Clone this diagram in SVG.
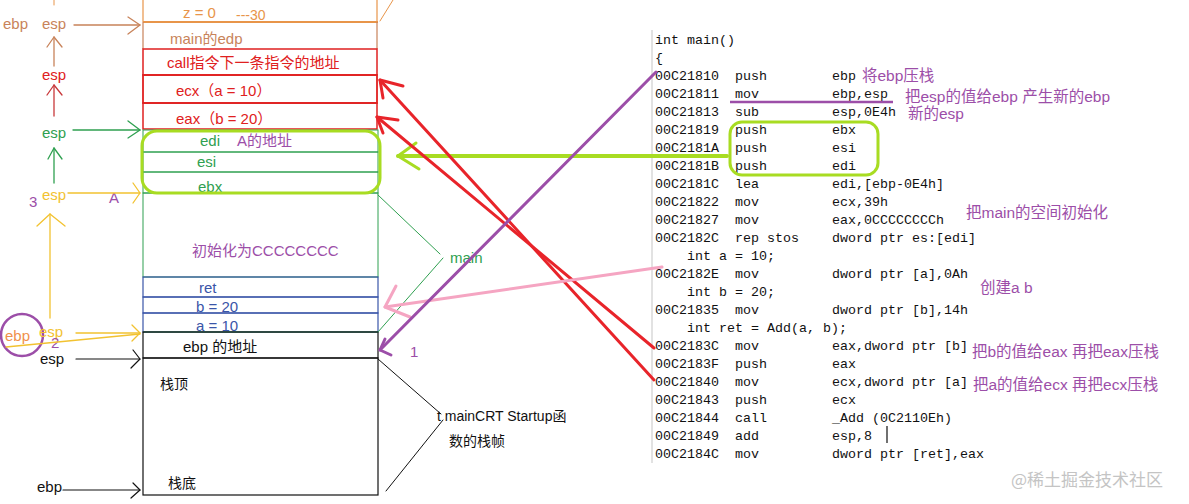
<svg xmlns="http://www.w3.org/2000/svg" width="1189" height="504" viewBox="0 0 1189 504">
<style>
  .t{font-family:"Liberation Sans","Noto Sans CJK SC",sans-serif;font-size:15px}
  .code{font-family:"Liberation Mono","DejaVu Sans Mono",monospace;font-size:13.33px;fill:#111}
  .note{font-family:"Liberation Sans","Noto Sans CJK SC",sans-serif;font-size:15.5px;fill:#9c4ea8}
  .ar{fill:none;stroke-linecap:round;stroke-linejoin:round}
</style>
<rect width="1189" height="504" fill="#fff"/>

<!-- stack cells -->
<g id="cell-z">
  <path d="M143 0V22M377 0V22" stroke="#e8954a" stroke-width="1.2" fill="none"/>
  <line x1="143" y1="22" x2="378" y2="22" stroke="#e8954a" stroke-width="2"/>
  <text class="t" x="183" y="18" fill="#e8954a">z = 0</text>
  <text class="t" x="236" y="20" fill="#e8954a" style="font-size:14px">---30</text>
</g>
<g id="cell-main-edp">
  <path d="M143 22V49M377 22V49" stroke="#c8835a" stroke-width="1.2" fill="none"/>
  <text class="t" x="170" y="44" fill="#c8835a">main的edp</text>
</g>
<g id="cell-call">
  <rect x="143" y="49" width="234" height="26" fill="none" stroke="#e02020" stroke-width="1.5"/>
  <text class="t" x="167" y="68" fill="#e02020">call指令下一条指令的地址</text>
</g>
<g id="cell-ecx">
  <rect x="143" y="75" width="234" height="28" fill="none" stroke="#e02020" stroke-width="1.8"/>
  <text class="t" x="176" y="96" fill="#e02020">ecx（a = 10）</text>
</g>
<g id="cell-eax">
  <rect x="143" y="103" width="234" height="26" fill="none" stroke="#e02020" stroke-width="1.5"/>
  <text class="t" x="176" y="124" fill="#e02020">eax（b = 20）</text>
</g>
<g id="cell-edi">
  <rect x="143" y="130" width="235" height="22" fill="none" stroke="#2fa050" stroke-width="1"/>
  <text class="t" x="200" y="146" fill="#2fa050">edi</text>
  <text class="t" x="237" y="146" fill="#9c4ea8">A的地址</text>
</g>
<g id="cell-esi">
  <rect x="143" y="152" width="235" height="20" fill="none" stroke="#2fa050" stroke-width="1"/>
  <text class="t" x="197" y="167" fill="#2fa050">esi</text>
</g>
<g id="cell-ebx">
  <rect x="143" y="172" width="235" height="21" fill="none" stroke="#2fa050" stroke-width="1"/>
  <text class="t" x="198" y="192" fill="#2fa050">ebx</text>
</g>
<g id="cell-init">
  <rect x="143" y="193" width="235" height="84" fill="none" stroke="#2fa050" stroke-width="1"/>
  <text class="t" x="192" y="256" fill="#9c4ea8">初始化为CCCCCCCC</text>
</g>
<g id="cell-ret">
  <rect x="143" y="277" width="235" height="20" fill="none" stroke="#3a55a8" stroke-width="1.2"/>
  <text class="t" x="199" y="293" fill="#3a55a8">ret</text>
</g>
<g id="cell-b">
  <rect x="143" y="297" width="235" height="16" fill="none" stroke="#3a55a8" stroke-width="1.2"/>
  <text class="t" x="196" y="312" fill="#3a55a8">b = 20</text>
</g>
<g id="cell-a">
  <rect x="143" y="313" width="235" height="19" fill="none" stroke="#3a55a8" stroke-width="1.2"/>
  <line x1="143" y1="332" x2="378" y2="332" stroke="#2fa050" stroke-width="1.2"/>
  <text class="t" x="196" y="331" fill="#3a55a8">a = 10</text>
</g>
<g id="cell-ebp-addr">
  <rect x="143" y="332" width="235" height="26" fill="none" stroke="#111" stroke-width="1.2"/>
  <text class="t" x="183" y="352" fill="#111">ebp 的地址</text>
</g>
<g id="cell-crt">
  <rect x="143" y="358" width="235" height="137" fill="none" stroke="#111" stroke-width="1.2"/>
  <text class="t" x="160" y="389" fill="#111" style="font-size:14px">栈顶</text>
  <text class="t" x="168" y="488" fill="#111" style="font-size:14px">栈底</text>
</g>
<g id="push-group">
  <rect x="142" y="131" width="238" height="62" rx="15" fill="none" stroke="#a8dc22" stroke-width="3"/>
</g>

<!-- left labels -->
<g id="left-labels">
  <text class="t" x="3" y="29" fill="#c8835a">ebp</text>
  <text class="t" x="42" y="29" fill="#c8835a">esp</text>
  <text class="t" x="42" y="80" fill="#e02020">esp</text>
  <text class="t" x="42" y="138" fill="#2fa050">esp</text>
  <text class="t" x="29" y="207" fill="#9c4ea8">3</text>
  <text class="t" x="42" y="200" fill="#f2c230">esp</text>
  <text class="t" x="109" y="203" fill="#9c4ea8">A</text>
  <circle cx="22" cy="335" r="21" fill="none" stroke="#9c4ea8" stroke-width="2.5"/>
  <text class="t" x="5" y="341" fill="#f0904a">ebp</text>
  <text class="t" x="39" y="337" fill="#f2c230">esp</text>
  <text class="t" x="51" y="348" fill="#9c4ea8">2</text>
  <text class="t" x="40" y="364" fill="#111">esp</text>
  <text class="t" x="37" y="492" fill="#111">ebp</text>
</g>

<!-- right-side labels -->
<g id="frame-labels">
  <text class="t" x="450" y="263" fill="#2fa050">main</text>
  <text class="t" x="437" y="421" fill="#111" style="font-size:14px">t mainCRT Startup函</text>
  <text class="t" x="449" y="446" fill="#111" style="font-size:14px">数的栈帧</text>
  <text class="t" x="410" y="357" fill="#9c4ea8">1</text>
</g>

<!-- code listing -->
<g id="code">
  <line x1="652" y1="30" x2="652" y2="463" stroke="#d8d8d8" stroke-width="1.5"/>
  <text class="code" x="655" y="44">int main()</text>
  <text class="code" x="655" y="62">{</text>
  <text class="code" y="80"><tspan x="655">00C21810</tspan><tspan x="735">push</tspan><tspan x="832">ebp</tspan></text>
  <text class="code" y="98"><tspan x="655">00C21811</tspan><tspan x="735">mov</tspan><tspan x="832">ebp,esp</tspan></text>
  <text class="code" y="116"><tspan x="655">00C21813</tspan><tspan x="735">sub</tspan><tspan x="832">esp,0E4h</tspan></text>
  <text class="code" y="134"><tspan x="655">00C21819</tspan><tspan x="735">push</tspan><tspan x="832">ebx</tspan></text>
  <text class="code" y="152"><tspan x="655">00C2181A</tspan><tspan x="735">push</tspan><tspan x="832">esi</tspan></text>
  <text class="code" y="170"><tspan x="655">00C2181B</tspan><tspan x="735">push</tspan><tspan x="832">edi</tspan></text>
  <text class="code" y="188"><tspan x="655">00C2181C</tspan><tspan x="735">lea</tspan><tspan x="832">edi,[ebp-0E4h]</tspan></text>
  <text class="code" y="206"><tspan x="655">00C21822</tspan><tspan x="735">mov</tspan><tspan x="832">ecx,39h</tspan></text>
  <text class="code" y="224"><tspan x="655">00C21827</tspan><tspan x="735">mov</tspan><tspan x="832">eax,0CCCCCCCCh</tspan></text>
  <text class="code" y="242"><tspan x="655">00C2182C</tspan><tspan x="735">rep stos</tspan><tspan x="832">dword ptr es:[edi]</tspan></text>
  <text class="code" x="687" y="260">int a = 10;</text>
  <text class="code" y="278"><tspan x="655">00C2182E</tspan><tspan x="735">mov</tspan><tspan x="832">dword ptr [a],0Ah</tspan></text>
  <text class="code" x="687" y="296">int b = 20;</text>
  <text class="code" y="314"><tspan x="655">00C21835</tspan><tspan x="735">mov</tspan><tspan x="832">dword ptr [b],14h</tspan></text>
  <text class="code" x="687" y="332">int ret = Add(a, b);</text>
  <text class="code" y="350"><tspan x="655">00C2183C</tspan><tspan x="735">mov</tspan><tspan x="832">eax,dword ptr [b]</tspan></text>
  <text class="code" y="368"><tspan x="655">00C2183F</tspan><tspan x="735">push</tspan><tspan x="832">eax</tspan></text>
  <text class="code" y="386"><tspan x="655">00C21840</tspan><tspan x="735">mov</tspan><tspan x="832">ecx,dword ptr [a]</tspan></text>
  <text class="code" y="404"><tspan x="655">00C21843</tspan><tspan x="735">push</tspan><tspan x="832">ecx</tspan></text>
  <text class="code" y="422"><tspan x="655">00C21844</tspan><tspan x="735">call</tspan><tspan x="832">_Add (0C2110Eh)</tspan></text>
  <text class="code" y="440"><tspan x="655">00C21849</tspan><tspan x="735">add</tspan><tspan x="832">esp,8</tspan></text>
  <text class="code" y="458"><tspan x="655">00C2184C</tspan><tspan x="735">mov</tspan><tspan x="832">dword ptr [ret],eax</tspan></text>
  <line x1="887" y1="426" x2="887" y2="443" stroke="#111" stroke-width="1.2"/>
  <rect x="730" y="122" width="148" height="53" rx="12" fill="none" stroke="#a8dc22" stroke-width="3"/>
  <line x1="730" y1="102" x2="893" y2="102" stroke="#9c4ea8" stroke-width="2.5"/>
</g>

<!-- annotations -->
<g id="notes">
  <text class="note" x="862" y="81">将ebp压栈</text>
  <text class="note" x="905" y="102">把esp的值给ebp 产生新的ebp</text>
  <text class="note" x="908" y="119">新的esp</text>
  <text class="note" x="966" y="218">把main的空间初始化</text>
  <text class="note" x="980" y="293">创建a b</text>
  <text class="note" x="972" y="357">把b的值给eax 再把eax压栈</text>
  <text class="note" x="973" y="390">把a的值给ecx 再把ecx压栈</text>
  <text x="1011" y="486" style="font-family:'Noto Sans CJK SC',sans-serif;font-size:17px" fill="#c4c4c4">@稀土掘金技术社区</text>
</g>

<!-- connectors -->
<g id="connectors" class="ar">
  <line x1="380" y1="21" x2="393" y2="0" stroke="#e8954a" stroke-width="1"/>
  <line x1="54" y1="0" x2="54" y2="5" stroke="#e8954a" stroke-width="1"/>
  <line x1="74" y1="25" x2="140" y2="25" stroke="#c8835a" stroke-width="1.3"/>
  <polyline points="128,17 140,25 128,34" stroke="#c8835a" stroke-width="1.3"/>
  <line x1="54" y1="66" x2="54" y2="37" stroke="#c8835a" stroke-width="1.3"/>
  <polyline points="47,47 54,37 62,47" stroke="#c8835a" stroke-width="1.3"/>
  <line x1="54" y1="116" x2="54" y2="85" stroke="#c8383a" stroke-width="1.3"/>
  <polyline points="47,95 54,85 62,95" stroke="#c8383a" stroke-width="1.3"/>
  <line x1="73" y1="130" x2="140" y2="130" stroke="#2fa050" stroke-width="1.3"/>
  <polyline points="128,121 140,130 128,138" stroke="#2fa050" stroke-width="1.3"/>
  <line x1="54" y1="183" x2="54" y2="148" stroke="#2fa050" stroke-width="1.3"/>
  <polyline points="48,159 54,148 62,159" stroke="#2fa050" stroke-width="1.3"/>
  <line x1="68" y1="193" x2="140" y2="193" stroke="#f2c230" stroke-width="1.3"/>
  <polyline points="133,183 140,193 133,203" stroke="#f2c230" stroke-width="1.3"/>
  <line x1="50" y1="318" x2="50" y2="214" stroke="#f2c230" stroke-width="1.3"/>
  <polyline points="37,226 50,214 65,226" stroke="#f2c230" stroke-width="1.3"/>
  <line x1="76" y1="333" x2="140" y2="333" stroke="#f2c230" stroke-width="1.3"/>
  <line x1="6" y1="347" x2="140" y2="334" stroke="#f2c230" stroke-width="1.3"/>
  <polyline points="132,325 140,333 132,341" stroke="#f2c230" stroke-width="1.3"/>
  <line x1="76" y1="359" x2="140" y2="359" stroke="#111" stroke-width="1.2"/>
  <polyline points="133,350 140,359 131,368" stroke="#111" stroke-width="1.2"/>
  <line x1="63" y1="490" x2="140" y2="490" stroke="#111" stroke-width="1.2"/>
  <polyline points="133,483 140,490 131,498" stroke="#111" stroke-width="1.2"/>
  <polyline points="378,195 440,254" stroke="#2fa050" stroke-width="1"/>
  <polyline points="443,258 378,332" stroke="#2fa050" stroke-width="1"/>
  <polyline points="378,359 441,414" stroke="#111" stroke-width="1"/>
  <polyline points="443,420 386,491" stroke="#111" stroke-width="1"/>
  <line x1="398" y1="156" x2="727" y2="156" stroke="#a8dc22" stroke-width="4"/>
  <polyline points="416,143 398,156 419,169" stroke="#a8dc22" stroke-width="3"/>
  <line x1="380" y1="80" x2="654" y2="380" stroke="#e8242a" stroke-width="3"/>
  <polyline points="403,86 380,80 383,98" stroke="#e8242a" stroke-width="3"/>
  <line x1="377" y1="117" x2="654" y2="348" stroke="#e8242a" stroke-width="3"/>
  <polyline points="398,120 377,117 383,133" stroke="#e8242a" stroke-width="3"/>
  <line x1="385" y1="307" x2="662" y2="267" stroke="#f5a5c2" stroke-width="3"/>
  <polyline points="396,286 385,307 410,317" stroke="#f5a5c2" stroke-width="3"/>
  <line x1="380" y1="350" x2="656" y2="72" stroke="#9c4ea8" stroke-width="3"/>
  <polyline points="385,339 380,350 391,355" stroke="#9c4ea8" stroke-width="3"/>
</g>
</svg>
